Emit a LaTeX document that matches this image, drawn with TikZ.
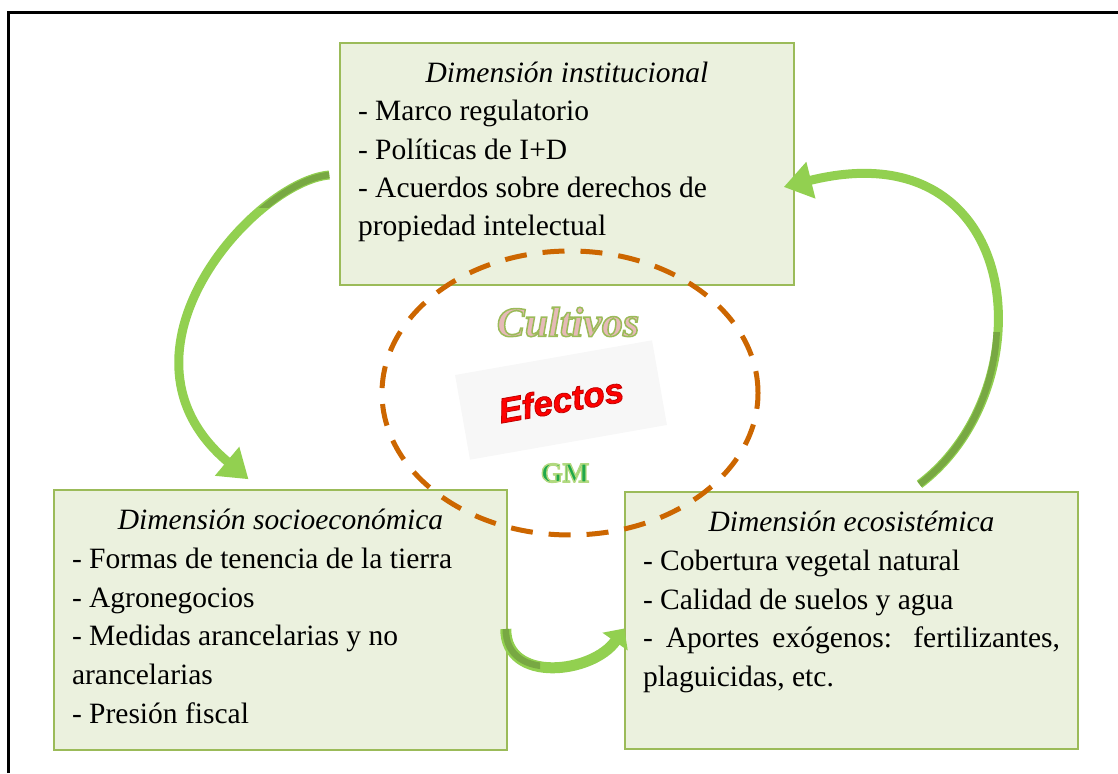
\documentclass[tikz,border=0pt]{standalone}
\usepackage{fontspec}
\setmainfont{Liberation Serif}
\newfontfamily\efsans{Liberation Sans}
\usetikzlibrary{arrows.meta,calc}
\definecolor{boxfill}{HTML}{EBF1DE}
\definecolor{boxline}{HTML}{9BBB59}
\definecolor{ringcol}{RGB}{204,102,0}
\definecolor{arrgreen}{HTML}{92D050}
\definecolor{arrdark}{HTML}{78A843}
\definecolor{pinkfill}{HTML}{E6B9B8}
\definecolor{gmgreen}{HTML}{1FA84A}
\newcommand{\dimtext}[3]{\begin{minipage}[t][#2][t]{#1}\fontsize{29.5}{38.8}\selectfont\raggedright #3\end{minipage}}
\newcommand{\dimtitle}[1]{{\centering\itshape\rule{0pt}{32.5pt}#1\par}}
% filled text with a coloured outline (fill colour, stroke setting, text)
\newcommand{\outlined}[3]{{\color{#1}\special{pdf:literal direct #2 2 Tr}#3\special{pdf:literal direct 0 Tr}}}

\begin{document}
\begin{tikzpicture}[x=1pt,y=1pt,>=Stealth,
  dimbox/.style={draw=boxline,line width=1.5pt,fill=boxfill,inner xsep=18pt,inner ysep=7pt},
  bigarrow/.style={draw=arrgreen,line width=9pt,-{Triangle[length=28pt,width=36pt]}},
  smallarrow/.style={draw=arrgreen,line width=11pt,-{Triangle[length=16pt,width=30pt]}},
  darkpart/.style={draw=arrdark,line width=6.5pt}]
\useasboundingbox (0,0) rectangle (1118,773);
\draw[line width=3pt] (8,0) |- (1118,760);
% the three dimensions
\node[dimbox] (inst) at (567,609){\dimtext{418pt}{228pt}{\fontsize{29.5}{38.3}\selectfont\dimtitle{Dimensión institucional}
- Marco regulatorio\par
- Políticas de I+D\par
- Acuerdos sobre derechos de\par
propiedad intelectual}};
\node[dimbox] (socio) at (280.5,153){\dimtext{417pt}{246pt}{\dimtitle{Dimensión socioeconómica}
- Formas de tenencia de la tierra\par
- Agronegocios\par
- Medidas arancelarias y no\par
arancelarias\par
- Presión fiscal}};
\node[dimbox] (eco) at (851.5,152.5){\dimtext{417pt}{243pt}{\dimtitle{Dimensión ecosistémica}
- Cobertura vegetal natural\par
- Calidad de suelos y agua\par
\makebox[\linewidth][s]{- Aportes exógenos: fertilizantes,}\par
plaguicidas, etc.}};
% centre: dashed ring with the three words
\draw[ringcol,line width=5pt,dash pattern=on 22pt off 16pt] (570,380) ellipse [x radius=188,y radius=142];
\node (cultivos) at (568,451){\fontsize{42}{42}\selectfont\bfseries\itshape\outlined{pinkfill}{0.608 0.733 0.349 RG 1.5 w}{Cultivos}};
\node[fill=black!3,rotate=10,minimum width=200pt,minimum height=86pt] (efectos) at (561,373)
  {\efsans\fontsize{35}{35}\selectfont\bfseries\itshape\outlined{red}{0.75 0 0 RG 0.8 w}{Efectos}};
\node (gm) at (565,300){\fontsize{28}{28}\selectfont\bfseries\outlined{gmgreen}{0.70 0.85 0.50 RG 1.4 w}{GM}};
% cycle arrows
\draw[bigarrow] ([shift={(-10,-11)}]inst.west) to[out=185,in=140,out distance=75,in distance=195] ([shift={(-32,10)}]socio.north);
\draw[smallarrow] ([shift={(-2,-9)}]socio.east) to[out=-90,in=235,distance=55] ([shift={(0,-8)}]eco.west);
\draw[bigarrow] ([shift={(68,7)}]eco.north) to[out=37,in=14,out distance=160,in distance=250] ([shift={(-11,-23)}]inst.east);
% darker tails
\begin{scope}
\clip (235,565) rectangle (345,620);
\draw[darkpart] ([shift={(-10,-11)}]inst.west) to[out=185,in=140,out distance=75,in distance=195] ([shift={(-32,10)}]socio.north);
\end{scope}
\begin{scope}
\clip (490,100) rectangle (540,150);
\draw[darkpart] ([shift={(-2,-9)}]socio.east) to[out=-90,in=235,distance=55] ([shift={(0,-8)}]eco.west);
\end{scope}
\begin{scope}
\clip (900,280) rectangle (1030,440);
\draw[darkpart] ([shift={(68,7)}]eco.north) to[out=37,in=14,out distance=160,in distance=250] ([shift={(-11,-23)}]inst.east);
\end{scope}
\end{tikzpicture}
\end{document}
